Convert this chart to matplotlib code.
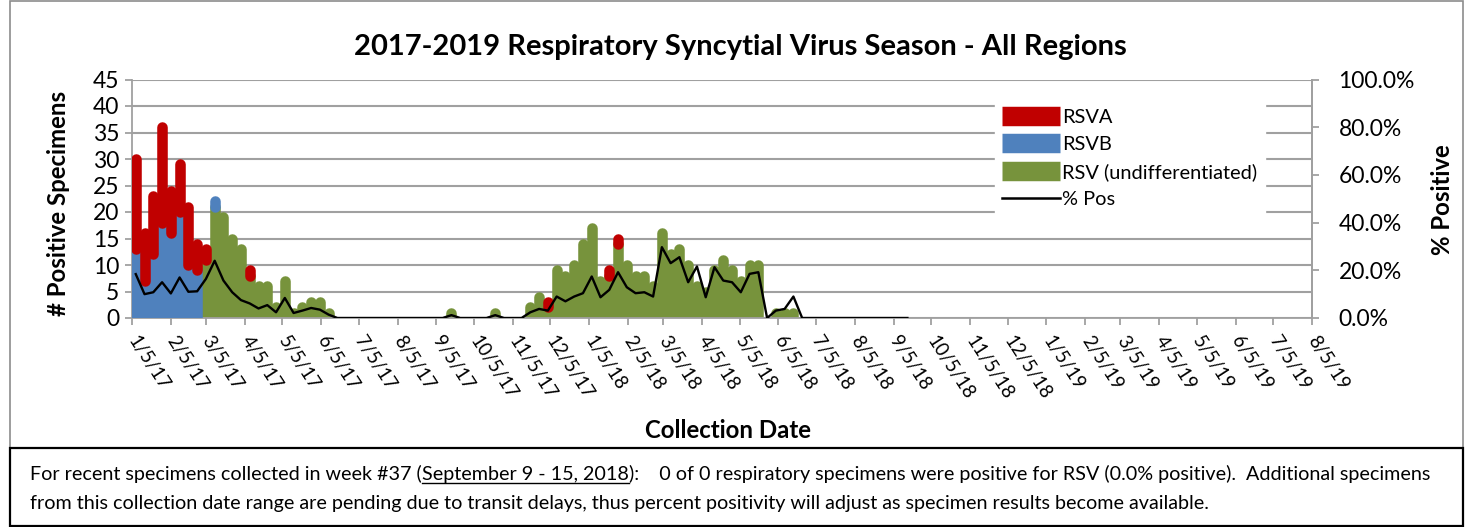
import datetime

import numpy as np
import matplotlib
matplotlib.use("Agg")
import matplotlib.pyplot as plt
import matplotlib.dates as mdates
from matplotlib.lines import Line2D
from matplotlib.patches import Rectangle
from matplotlib.ticker import PercentFormatter

plt.rcParams['font.family'] = ['Lato', 'DejaVu Sans']

# weekly counts, first week plotted at 1/8/17
first_week = datetime.date(2017, 1, 8)

rsv_a = [17, 9, 11, 18, 8, 9, 11, 5, 2, 0,
         0, 0, 0, 1, 0, 0, 0, 0, 0, 0,
         0, 0, 0, 0, 0, 0, 0, 0, 0, 0,
         0, 0, 0, 0, 0, 0, 0, 0, 0, 0,
         0, 0, 0, 0, 0, 0, 0, 1, 0, 0,
         0, 0, 0, 0, 1, 1, 0, 0, 0, 0,
         0, 0, 0, 0, 0, 0, 0, 0, 0, 0,
         0, 0, 0, 0, 0, 0, 0, 0, 0, 0,
         0, 0, 0, 0, 0, 0, 0, 0, 0]

rsv_b = [13, 7, 12, 18, 16, 20, 10, 9, 0, 1,
         0, 0, 0, 0, 0, 0, 0, 0, 0, 0,
         0, 0, 0, 0, 0, 0, 0, 0, 0, 0,
         0, 0, 0, 0, 0, 0, 0, 0, 0, 0,
         0, 0, 0, 0, 0, 0, 0, 0, 0, 0,
         0, 0, 0, 0, 0, 0, 0, 0, 0, 0,
         0, 0, 0, 0, 0, 0, 0, 0, 0, 0,
         0, 0, 0, 0, 0, 0, 0, 0, 0, 0,
         0, 0, 0, 0, 0, 0, 0, 0, 0]

rsv_undiff = [0, 0, 0, 0, 0, 0, 0, 0, 11, 21,
              19, 15, 13, 8, 6, 6, 2, 7, 1, 2,
              3, 3, 1, 0, 0, 0, 0, 0, 0, 0,
              0, 0, 0, 0, 0, 0, 1, 0, 0, 0,
              0, 1, 0, 0, 0, 2, 4, 2, 9, 8,
              10, 14, 17, 7, 8, 14, 10, 8, 8, 6,
              16, 12, 13, 10, 6, 5, 9, 11, 9, 7,
              10, 10, 0, 1, 1, 1, 0, 0, 0, 0,
              0, 0, 0, 0, 0, 0, 0, 0, 0]

pct_pos = [18.4, 10.0, 10.8, 15.0, 10.3, 17.0, 11.0, 11.2, 16.4, 24.0,
           15.7, 10.8, 7.5, 6.1, 4.0, 5.4, 2.4, 8.4, 2.1, 3.1,
           4.2, 3.5, 1.4, 0, 0, 0, 0, 0, 0, 0,
           0, 0, 0, 0, 0, 0, 1.2, 0, 0, 0,
           0, 1.2, 0, 0, 0, 2.4, 3.8, 3.1, 9.0, 7.0,
           9.0, 10.4, 17.4, 8.7, 11.8, 19.2, 12.9, 10.4, 10.8, 9.0,
           29.7, 23.0, 25.5, 15.0, 21.6, 8.7, 21.3, 15.7, 15.0, 10.8,
           18.5, 19.2, 0, 3.1, 3.8, 9.0, 0, 0, 0, 0,
           0, 0, 0, 0, 0, 0, 0, 0, 0]

labels = ["RSVA", "RSVB", "RSV (undifferentiated)", "% Pos"]
colors = ["#C00000", "#4F81BD", "#77933C"]

W, H = 1473, 527
fig = plt.figure(figsize=(W / 100, H / 100), dpi=100)
ax = fig.add_axes([132 / W, 1 - 318 / H, (1312 - 132) / W, (318 - 79.5) / H])

dates = [first_week + datetime.timedelta(days=7 * i) for i in range(len(rsv_a))]
x = mdates.date2num(dates)
a = np.array(rsv_a, float)
b = np.array(rsv_b, float)
u = np.array(rsv_undiff, float)

# Excel-ish thick bordered bars -> thick round-capped strokes
def strokes(lo, hi, color, z):
    m = hi > lo
    lc = ax.vlines(x[m], lo[m], hi[m], colors=color, linewidth=7.6, zorder=z)
    lc.set_capstyle("round")

strokes(np.zeros_like(u), u, colors[2], 2)
strokes(u, u + b, colors[1], 3)
strokes(u + b, u + b + a, colors[0], 4)

x0 = mdates.date2num(datetime.date(2017, 1, 5))
x1 = mdates.date2num(datetime.date(2019, 8, 5))
ax.set_xlim(x0, x1)
ax.set_ylim(0, 45)
ax.set_yticks(range(0, 46, 5))

tick_dates = []
for yr in (2017, 2018, 2019):
    for mo in range(1, 13):
        d = datetime.date(yr, mo, 5)
        if d <= datetime.date(2019, 8, 5):
            tick_dates.append(d)
ax.set_xticks(mdates.date2num(tick_dates))
ax.set_xticklabels([f"{d.month}/{d.day}/{d.year % 100}" for d in tick_dates],
                   rotation=-57, ha="left", va="center", rotation_mode="anchor")

grid_c = "#A0A0A0"
ax.yaxis.grid(True, color=grid_c, linewidth=1.5)
ax.set_axisbelow(True)
for s in ("left", "bottom", "right"):
    ax.spines[s].set_color(grid_c)
    ax.spines[s].set_linewidth(1.3)
ax.spines["top"].set_visible(False)
ax.tick_params(axis="both", direction="out", length=5, width=1.3, color=grid_c,
               labelsize=16.5, pad=4)
ax.tick_params(axis="x", labelsize=13.5, pad=9)

ax2 = ax.twinx()
ax2.plot(x, np.array(pct_pos) / 100, color="black", linewidth=1.7, zorder=5)
ax2.set_ylim(0, 1)
ax2.set_yticks(np.arange(0, 1.01, 0.2))
ax2.yaxis.set_major_formatter(PercentFormatter(1, decimals=1))
for s in ("left", "bottom", "top"):
    ax2.spines[s].set_visible(False)
ax2.spines["right"].set_color(grid_c)
ax2.spines["right"].set_linewidth(1.3)
ax2.tick_params(axis="y", direction="out", length=5, width=1.3, color=grid_c,
                labelsize=16.5, pad=14)

handles = [Line2D([], [], color=colors[0], linewidth=14, solid_capstyle="butt"),
           Line2D([], [], color=colors[1], linewidth=14, solid_capstyle="butt"),
           Line2D([], [], color=colors[2], linewidth=14, solid_capstyle="butt"),
           Line2D([], [], color="black", linewidth=1.8)]
leg = ax2.legend(handles, labels, loc="upper left",
                 bbox_to_anchor=(995 / W, 1 - 102 / H), bbox_transform=fig.transFigure,
                 frameon=True, fancybox=False, facecolor="white", edgecolor="white",
                 framealpha=1, fontsize=14.4, handlelength=2.9, handletextpad=0.12,
                 labelspacing=0.5, borderpad=0.35, borderaxespad=0)

fig.text(740 / W, 1 - 47 / H, "2017-2019 Respiratory Syncytial Virus Season - All Regions",
         ha="center", va="center", fontsize=21, fontweight="bold")
fig.text(58 / W, 1 - 203 / H, "# Positive Specimens", rotation=90,
         ha="center", va="center", fontsize=17.3, fontweight="bold")
fig.text(1443 / W, 1 - 200 / H, "% Positive", rotation=90,
         ha="center", va="center", fontsize=17.3, fontweight="bold")
fig.text(728 / W, 1 - 430 / H, "Collection Date",
         ha="center", va="center", fontsize=17.3, fontweight="bold")

# frames: chart border and note box
fig.add_artist(Rectangle((10 / W, 1 - 448 / H), 1453 / W, 447 / H, transform=fig.transFigure,
                         fill=False, edgecolor="#8C8C8C", linewidth=1.2))
fig.add_artist(Rectangle((10 / W, 1 / H), 1453 / W, 78 / H,
                         transform=fig.transFigure, fill=False, edgecolor="black",
                         linewidth=1.6))

# note with underlined date range
r = fig.canvas.get_renderer()
note_fs = 14.2
y_line1 = 1 - 480 / H
seg1 = "For recent specimens collected in week #37 ("
seg2 = "September 9 - 15, 2018"
seg3 = "):    0 of 0 respiratory specimens were positive for RSV (0.0% positive).  Additional specimens"
t1 = fig.text(30 / W, y_line1, seg1, fontsize=note_fs, va="baseline")
bb1 = t1.get_window_extent(renderer=r)
t2 = fig.text(bb1.x1 / W, y_line1, seg2, fontsize=note_fs, va="baseline")
bb2 = t2.get_window_extent(renderer=r)
fig.add_artist(Line2D([bb2.x0 / W, bb2.x1 / W], [y_line1 - 3 / H] * 2,
                      transform=fig.transFigure, color="black", linewidth=1))
fig.text(bb2.x1 / W, y_line1, seg3, fontsize=note_fs, va="baseline")
fig.text(30 / W, 1 - 509 / H,
         "from this collection date range are pending due to transit delays, thus percent "
         "positivity will adjust as specimen results become available.",
         fontsize=note_fs, va="baseline")

fig.savefig("out.png", dpi=100)
